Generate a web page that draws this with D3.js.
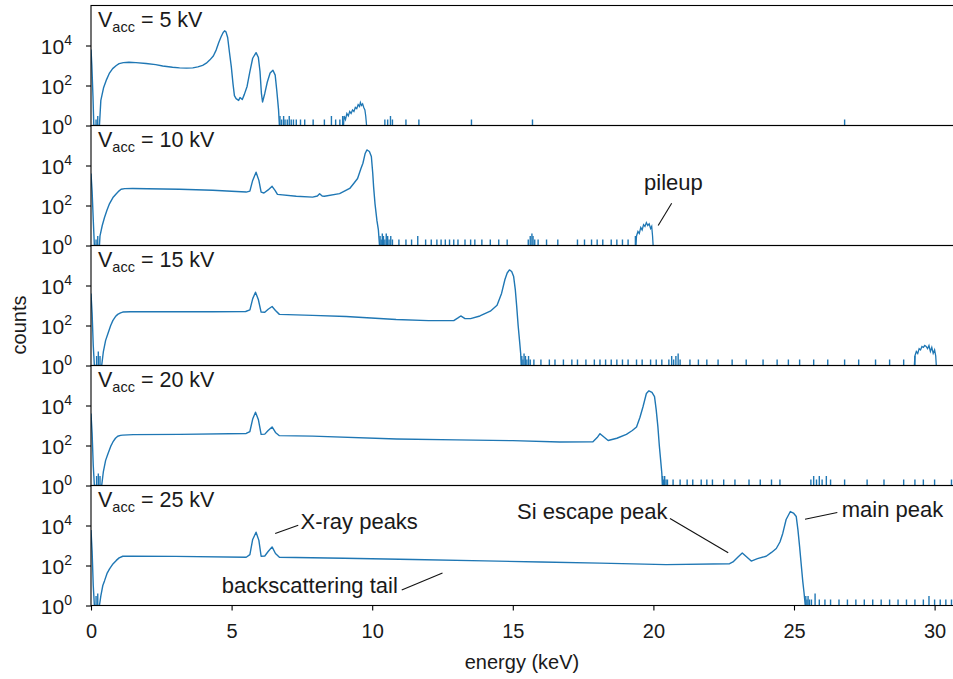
<!DOCTYPE html>
<html><head><meta charset="utf-8">
<script src="https://cdn.jsdelivr.net/npm/d3@7"></script>
<style>
body{margin:0;background:#fff;}
text{font-family:"Liberation Sans",Arial,Helvetica,sans-serif;fill:#1a1a1a;}
</style>
</head><body>
<svg id="chart" width="953" height="679"></svg>
<script>
// ---------------- DATA ----------------
const voltages = [5, 10, 15, 20, 25];
const xTicks = [0, 5, 10, 15, 20, 25, 30];
const yTicks = [1, 100, 10000];

// main spectrum curves: [energy keV, counts]
const curve5kV = [[0,6300],[0.03,1000],[0.07,30],[0.1,1],[0.3,1],[0.35,18],[0.45,80],[0.54,180],[0.65,400],[0.77,700],[0.9,1000],[1.0,1250],[1.15,1400],[1.35,1450],[1.6,1400],[1.96,1260],[2.3,1100],[2.55,950],[2.9,820],[3.15,760],[3.4,740],[3.62,760],[3.8,850],[3.97,1020],[4.1,1300],[4.22,1860],[4.35,3000],[4.45,5900],[4.55,15000],[4.63,28000],[4.7,45000],[4.75,54000],[4.8,48000],[4.86,25000],[4.92,5000],[4.99,850],[5.05,120],[5.1,31],[5.16,22],[5.25,18],[5.3,25],[5.38,20],[5.45,35],[5.55,90],[5.65,500],[5.75,2300],[5.87,4400],[5.95,2600],[6.01,500],[6.06,40],[6.1,15],[6.18,40],[6.27,150],[6.37,420],[6.47,580],[6.55,330],[6.61,50],[6.67,6],[6.7,1]];
const curve10kV = [[0,4000],[0.04,500],[0.08,20],[0.12,1],[0.3,1],[0.32,3],[0.4,10],[0.48,25],[0.57,60],[0.66,125],[0.78,250],[0.9,390],[1.0,540],[1.07,650],[1.2,700],[1.48,710],[2.0,690],[3.15,650],[4.33,575],[5.0,520],[5.52,470],[5.65,520],[5.75,1800],[5.87,4600],[5.97,1800],[6.05,470],[6.15,420],[6.3,600],[6.44,910],[6.55,550],[6.63,360],[7.3,290],[7.88,263],[8.05,300],[8.13,390],[8.22,300],[8.3,290],[8.84,390],[9.2,710],[9.35,1300],[9.48,2240],[9.6,7000],[9.67,13000],[9.75,40000],[9.81,60000],[9.9,50000],[9.97,28000],[10.02,4000],[10.05,850],[10.1,120],[10.17,17],[10.22,6],[10.26,1]];
const curve15kV = [[0,4000],[0.04,400],[0.08,10],[0.12,1],[0.38,1],[0.44,5],[0.52,18],[0.6,39],[0.7,100],[0.78,180],[0.87,280],[0.95,360],[1.05,430],[1.13,470],[1.4,490],[1.96,490],[3.0,490],[4.33,490],[5.5,500],[5.65,600],[5.75,2200],[5.85,4600],[5.95,2000],[6.05,470],[6.18,460],[6.3,650],[6.44,890],[6.56,560],[6.7,360],[7.88,320],[9.07,280],[10.85,200],[12.0,175],[12.9,175],[13.05,240],[13.15,300],[13.3,220],[13.5,220],[13.83,300],[14.2,520],[14.44,1020],[14.6,4000],[14.72,20000],[14.8,42000],[14.88,60000],[14.96,50000],[15.03,28000],[15.09,6000],[15.14,850],[15.19,100],[15.24,17],[15.28,4],[15.3,1]];
const curve20kV = [[0,4000],[0.04,400],[0.08,10],[0.12,1],[0.38,1],[0.44,5],[0.52,18],[0.6,38],[0.7,90],[0.78,150],[0.87,230],[0.95,290],[1.05,320],[1.13,330],[1.5,350],[3.15,360],[5.52,400],[5.65,500],[5.75,2100],[5.85,4600],[5.95,2000],[6.05,360],[6.18,370],[6.3,560],[6.44,850],[6.56,450],[6.7,310],[7.88,295],[10.87,210],[13,190],[15,175],[16.67,150],[17.85,155],[18.0,250],[18.1,390],[18.22,280],[18.39,178],[18.7,230],[19.04,360],[19.25,560],[19.4,850],[19.52,2500],[19.63,8700],[19.75,40000],[19.84,54000],[19.95,45000],[20.04,28000],[20.1,6000],[20.16,850],[20.21,100],[20.26,17],[20.3,4],[20.32,1]];
const curve25kV = [[0,5900],[0.04,500],[0.08,10],[0.12,1],[0.3,1],[0.35,3],[0.42,10],[0.48,17],[0.57,40],[0.66,68],[0.78,120],[0.9,180],[1.0,240],[1.13,290],[1.5,290],[3,285],[5.52,260],[5.65,350],[5.75,2000],[5.87,4600],[5.97,1800],[6.05,290],[6.18,300],[6.3,500],[6.44,850],[6.56,400],[6.7,260],[9,230],[11.45,200],[14,170],[16,150],[18.1,132],[20.45,110],[22.71,123],[22.83,150],[23.0,260],[23.16,420],[23.3,280],[23.48,166],[23.7,220],[24.01,290],[24.2,450],[24.37,710],[24.5,1500],[24.6,4000],[24.72,20000],[24.87,50000],[24.98,42000],[25.08,28000],[25.14,6000],[25.2,850],[25.26,100],[25.31,17],[25.36,4],[25.4,1]];

// sparse noise counts above the main peak: [energy keV, counts]
const noise5kV = [[0.18,2],[0.24,3],[6.72,3],[6.78,2],[6.85,3],[6.9,2],[6.98,2],[7.05,3],[7.12,2],[7.2,2],[7.3,2],[7.45,2],[7.6,2],[7.9,2],[8.3,2],[8.55,3],[8.7,2],[8.85,2],[8.95,3],[10.45,2],[10.55,2],[10.65,3],[10.72,2],[11.2,2],[11.66,2],[13.53,2],[15.7,2],[26.8,2]];
const noise10kV = [[0.18,2],[0.24,3],[10.28,3],[10.32,2],[10.36,4],[10.4,3],[10.45,2],[10.5,4],[10.55,3],[10.6,2],[10.66,3],[10.72,2],[10.95,2],[11.2,2],[11.4,2],[11.62,3],[11.9,2],[12.1,2],[12.3,2],[12.45,2],[12.6,2],[12.75,2],[12.9,2],[13.05,2],[13.3,2],[13.5,2],[13.65,2],[13.9,2],[14.2,2],[14.5,2],[14.8,2],[15.55,2],[15.62,3],[15.68,4],[15.72,3],[15.78,2],[15.9,2],[16.2,2],[16.6,2],[17.3,2],[17.55,2],[17.8,2],[18.0,2],[18.2,2],[18.5,2],[18.7,2],[18.9,2],[19.1,2],[19.36,3]];
const noise15kV = [[0.2,3],[0.26,5],[0.32,3],[15.32,3],[15.36,2],[15.4,4],[15.45,3],[15.5,2],[15.56,3],[15.62,2],[15.75,2],[16.0,2],[16.3,2],[16.5,2],[16.8,2],[17.1,2],[17.3,2],[17.6,2],[17.9,2],[18.1,2],[18.3,2],[18.5,2],[18.7,2],[18.9,2],[19.1,2],[19.4,2],[19.6,2],[19.9,2],[20.1,2],[20.3,2],[20.55,2],[20.65,3],[20.72,2],[20.8,3],[20.88,4],[20.95,2],[21.3,2],[21.6,2],[21.9,2],[22.3,2],[22.8,2],[23.3,2],[23.9,2],[24.4,2],[24.8,2],[25.2,2],[25.7,2],[26.2,2],[26.8,2],[27.3,2],[27.9,2],[28.4,2],[28.9,2],[29.3,3]];
const noise20kV = [[0.2,3],[0.26,4],[0.32,3],[20.33,3],[20.36,2],[20.4,3],[20.45,2],[20.5,2],[20.7,2],[20.95,2],[21.2,2],[21.4,2],[21.7,2],[21.9,2],[22.1,2],[22.5,2],[22.9,2],[23.4,2],[23.8,2],[24.2,2],[24.5,2],[25.6,2],[25.7,3],[25.8,2],[25.9,3],[26.0,2],[26.15,3],[26.3,2],[26.8,2],[27.6,2],[28.2,2],[28.9,2],[29.3,2],[29.6,2],[30.0,2],[30.6,2]];
const noise25kV = [[0.18,3],[0.24,4],[25.42,3],[25.46,2],[25.5,3],[25.55,2],[25.62,2],[25.75,4],[25.9,2],[26.1,2],[26.3,2],[26.6,2],[26.9,2],[27.2,2],[27.5,2],[27.8,2],[28.1,2],[28.4,2],[28.7,2],[29.0,2],[29.3,2],[29.6,2],[29.8,3],[30.0,2],[30.2,2],[30.4,2],[30.6,2]];

// pile-up bumps: [energy keV, counts]
const pileup5kV = [[8.98,1],[9.0,3],[9.05,2],[9.1,4],[9.15,3],[9.2,5],[9.25,4],[9.3,6],[9.35,5],[9.4,8],[9.45,7],[9.5,11],[9.55,9],[9.58,14],[9.62,10],[9.66,12],[9.7,8],[9.74,6],[9.77,3],[9.8,1]];
const pileup10kV = [[19.38,1],[19.4,3],[19.45,5],[19.5,4],[19.55,8],[19.6,6],[19.65,11],[19.7,9],[19.75,14],[19.8,10],[19.85,12],[19.9,7],[19.94,9],[19.97,3],[19.99,1]];
const pileup15kV = [[29.28,1],[29.3,3],[29.35,5],[29.4,4],[29.45,7],[29.5,6],[29.55,9],[29.6,8],[29.65,10],[29.7,9],[29.75,7],[29.8,10],[29.85,5],[29.9,8],[29.95,4],[30.0,6],[30.04,3],[30.06,1]];
const pileup20kV = [];
const pileup25kV = [];

const curves = [curve5kV, curve10kV, curve15kV, curve20kV, curve25kV];
const noises = [noise5kV, noise10kV, noise15kV, noise20kV, noise25kV];
const pileups = [pileup5kV, pileup10kV, pileup15kV, pileup20kV, pileup25kV];

// annotations: text position (energy, counts) and leader line ends, in panel coordinates
const annotations = [
  {panel:1, text:"pileup", tx:19.67, tc:630, lx1:20.65, lc1:130, lx2:20.17, lc2:10},
  {panel:4, text:"X-ray peaks", tx:7.45, tc:6500, lx1:6.55, lc1:4000, lx2:7.37, lc2:10200},
  {panel:4, text:"backscattering tail", tx:4.65, tc:4.3, lx1:11.05, lc1:6, lx2:12.5, lc2:42},
  {panel:4, text:"Si escape peak", tx:15.15, tc:22000, lx1:20.59, lc1:22300, lx2:22.66, lc2:430},
  {panel:4, text:"main peak", tx:26.7, tc:26000, lx1:25.39, lc1:20400, lx2:26.54, lc2:44600}
];

// ---------------- LAYOUT ----------------
const svg = d3.select("#chart");
const left = 91, top0 = 5.5, panelH = 120, pxPerKeV = 28.12;
const xMax = 31;
const x = d3.scaleLinear().domain([0, xMax]).range([left, left + xMax * pxPerKeV]);
const blue = "#1f77b4";

voltages.forEach((v, i) => {
  const t = top0 + i * panelH;
  const y = d3.scaleLog().domain([1, 1e6]).range([t + panelH, t]).clamp(true);
  const g = svg.append("g");
  const clipId = "clip" + i;
  svg.append("clipPath").attr("id", clipId).append("rect")
     .attr("x", left).attr("y", t).attr("width", 953 - left).attr("height", panelH);
  const pg = g.append("g").attr("clip-path", `url(#${clipId})`);
  const line = d3.line().x(d => x(d[0])).y(d => y(Math.max(1, d[1])));
  pg.append("path").datum(curves[i]).attr("d", line)
    .attr("fill", "none").attr("stroke", blue).attr("stroke-width", 1.4).attr("stroke-linejoin","round");
  if (pileups[i].length) {
    pg.append("path").datum(pileups[i]).attr("d", line)
      .attr("fill", "none").attr("stroke", blue).attr("stroke-width", 1.3);
  }
  pg.selectAll("line.nz").data(noises[i]).join("line")
    .attr("x1", d => x(d[0])).attr("x2", d => x(d[0]))
    .attr("y1", y(1)).attr("y2", d => y(d[1]))
    .attr("stroke", blue).attr("stroke-width", 1.4);

  // frame
  g.append("rect").attr("x", left).attr("y", t).attr("width", 1000).attr("height", panelH)
   .attr("fill", "none").attr("stroke", "#000").attr("stroke-width", 1.1);

  // y axis
  const ya = g.append("g").attr("transform", `translate(${left},0)`)
    .call(d3.axisLeft(y).tickValues(yTicks).tickSize(5).tickSizeOuter(0).tickFormat(""));
  ya.select(".domain").remove();
  ya.selectAll(".tick line").attr("stroke", "#000").attr("stroke-width", 1.1);
  yTicks.forEach(tv => {
    const tx = g.append("text").attr("x", 72).attr("y", y(tv) + 8).attr("text-anchor", "end")
      .style("font-size", "21px");
    tx.append("tspan").text("10");
    tx.append("tspan").attr("dy", -9).style("font-size", "14px").text(String(Math.round(Math.log10(tv))));
  });

  // panel label
  const lab = g.append("text").attr("x", 98).attr("y", t + 21).style("font-size", "21.5px");
  lab.append("tspan").text("V");
  lab.append("tspan").attr("dy", 5).style("font-size", "14.5px").text("acc");
  lab.append("tspan").attr("dy", -5).text(" = " + v + " kV");

  // annotations
  annotations.filter(a => a.panel === i).forEach(a => {
    g.append("text").attr("x", x(a.tx)).attr("y", y(a.tc)).style("font-size", "22px").text(a.text);
    g.append("line").attr("x1", x(a.lx1)).attr("y1", y(a.lc1)).attr("x2", x(a.lx2)).attr("y2", y(a.lc2))
      .attr("stroke", "#111").attr("stroke-width", 1.1);
  });

  if (i === voltages.length - 1) {
    const xa = svg.append("g").attr("transform", `translate(0,${t + panelH})`)
      .call(d3.axisBottom(x).tickValues(xTicks).tickSize(5).tickSizeOuter(0).tickPadding(13));
    xa.select(".domain").remove();
    xa.selectAll(".tick line").attr("stroke", "#000").attr("stroke-width", 1.1);
    xa.selectAll("text").style("font-size", "20px").attr("fill", "#1a1a1a");
  }
});

svg.append("text").attr("x", 522).attr("y", 669).attr("text-anchor", "middle")
  .style("font-size", "20px").text("energy (keV)");
svg.append("text").attr("transform", "translate(26,325) rotate(-90)").attr("text-anchor", "middle")
  .style("font-size", "20px").text("counts");
</script>
</body></html>
